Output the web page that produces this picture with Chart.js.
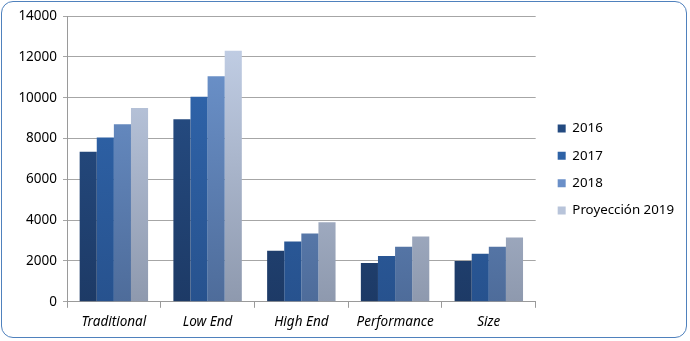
<!DOCTYPE html>
<html>
<head>
<meta charset="utf-8">
<script src="https://cdn.jsdelivr.net/npm/chart.js@4.4.1/dist/chart.umd.min.js"></script>
<style>
  html, body { margin: 0; padding: 0; background: #fff; }
  #wrap {
    position: absolute; left: 1px; top: 1px; width: 686px; height: 337px;
    border: 1.5px solid #4f81bd; border-radius: 12px; box-sizing: border-box; overflow: hidden;
  }
  #chart { position: absolute; left: 0; top: 0; }
</style>
</head>
<body>
<div id="wrap"><canvas id="chart" width="686" height="337"></canvas></div>
<script>
const categories = ['Traditional', 'Low End', 'High End', 'Performance', 'Size'];
const seriesNames = ['2016', '2017', '2018', 'Proyección 2019'];
const values2016 = [7350, 8950, 2500, 1900, 2000];
const values2017 = [8050, 10050, 2950, 2250, 2350];
const values2018 = [8700, 11050, 3350, 2700, 2700];
const values2019 = [9500, 12300, 3900, 3200, 3150];

// top / bottom colours of each bar gradient
const gradColors = [
  ['#28528c', '#1d3a66'],
  ['#3169b2', '#27528e'],
  ['#7098d2', '#4e6c9a'],
  ['#c6d3ea', '#8e99ae']
];
const legendColors = ['#234a80', '#2e62a6', '#6a8fc8', '#b8c4da'];

function makeGradient(i) {
  return function (context) {
    const chart = context.chart;
    const area = chart.chartArea;
    if (!area) return gradColors[i][0];
    const y0 = chart.scales.y.getPixelForValue(0);
    const g = chart.ctx.createLinearGradient(0, area.top, 0, y0);
    g.addColorStop(0, gradColors[i][0]);
    g.addColorStop(1, gradColors[i][1]);
    return g;
  };
}

// push the legend a little right and up, away from the plot
const legendShift = {
  id: 'legendShift',
  afterLayout(chart) {
    chart.legend.left += 8;
    chart.legend.right += 8;
    chart.legend.top -= 5;
    chart.legend.bottom -= 5;
  }
};

const allValues = [values2016, values2017, values2018, values2019];
const datasets = allValues.map((vals, i) => ({
  label: seriesNames[i],
  data: vals,
  backgroundColor: makeGradient(i),
  borderWidth: 0,
  barPercentage: 1,
  categoryPercentage: 0.73
}));

const ctx = document.getElementById('chart').getContext('2d');
const trendChart = new Chart(ctx, {
  type: 'bar',
  data: { labels: categories, datasets: datasets },
  plugins: [legendShift],
  options: {
    responsive: false,
    animation: false,
    layout: { padding: { left: 0, right: 12, top: 11, bottom: 3 } },
    plugins: {
      tooltip: { enabled: false },
      legend: {
        position: 'right',
        labels: {
          boxWidth: 8,
          boxHeight: 8,
          padding: 14,
          color: '#000',
          font: { family: 'Noto Sans', size: 13.3 },
          generateLabels: (chart) => seriesNames.map((n, i) => ({
            text: n,
            fillStyle: legendColors[i],
            strokeStyle: legendColors[i],
            lineWidth: 0,
            datasetIndex: i
          }))
        }
      }
    },
    scales: {
      x: {
        grid: { display: true, drawOnChartArea: false, color: '#9a9a9a', tickLength: 6 },
        border: { color: '#9a9a9a' },
        ticks: { color: '#000', font: { family: 'Noto Sans', size: 13.5, style: 'italic' }, padding: 6 }
      },
      y: {
        min: 0,
        max: 14000,
        afterFit: (scale) => { scale.width = 65; },
        grid: { color: '#a6a6a6', tickLength: 4 },
        border: { color: '#9a9a9a' },
        ticks: {
          stepSize: 2000, color: '#000', font: { family: 'Noto Sans', size: 13.5 }, padding: 6,
          callback: (v) => String(v)
        }
      }
    }
  }
});
</script>
</body>
</html>
